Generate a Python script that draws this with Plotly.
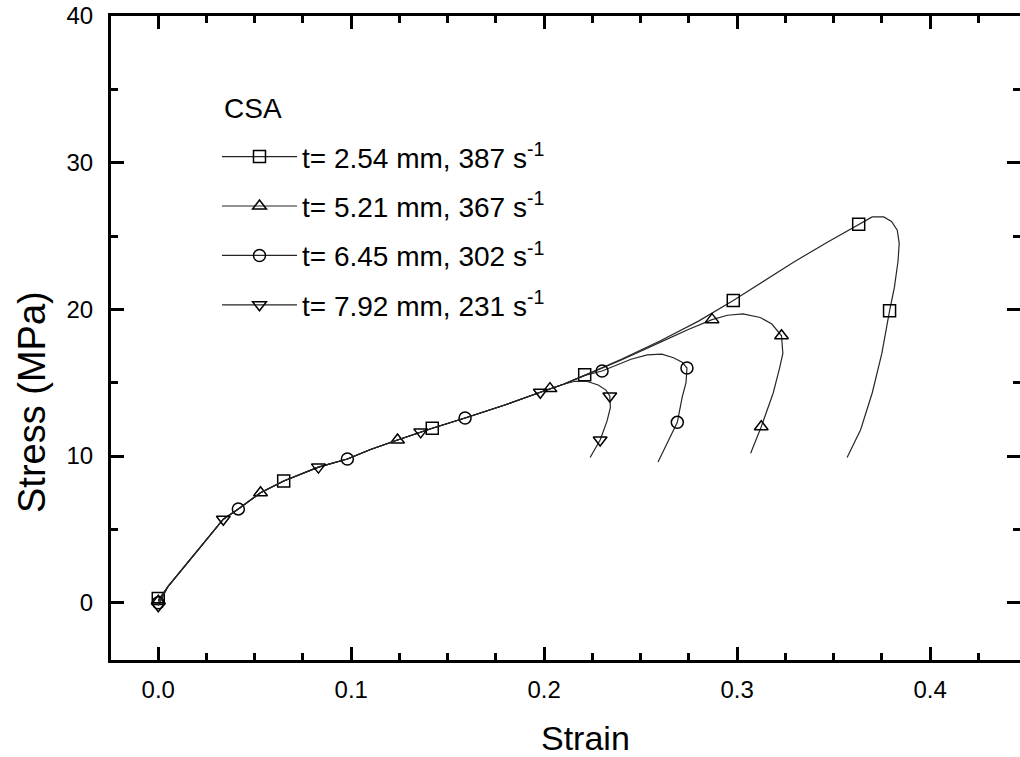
import plotly.graph_objects as go

# ---------------- data ----------------
names = ["t= 2.54 mm, 387 s<sup>-1</sup>", "t= 5.21 mm, 367 s<sup>-1</sup>",
         "t= 6.45 mm, 302 s<sup>-1</sup>", "t= 7.92 mm, 231 s<sup>-1</sup>"]
legend_title = "CSA"
x_title = "Strain"
y_title = "Stress (MPa)"
symbols = ["square-open", "triangle-up-open", "circle-open", "triangle-down-open"]

sq_x = [0.0, 0.005, 0.010, 0.015, 0.020, 0.027, 0.0337, 0.0415, 0.053, 0.065, 0.083, 0.098, 0.110,
        0.124, 0.142, 0.159, 0.180, 0.198, 0.210, 0.221, 0.240, 0.260, 0.280, 0.298, 0.312, 0.329,
        0.347, 0.363, 0.370, 0.376, 0.380, 0.383, 0.3840, 0.3834, 0.3815, 0.379, 0.375, 0.370, 0.364, 0.357]
sq_y = [0.2, 1.1, 1.9, 2.7, 3.5, 4.6, 5.7, 6.4, 7.5, 8.3, 9.25, 9.8, 10.45,
        11.1, 11.9, 12.6, 13.5, 14.35, 14.9, 15.5, 16.6, 17.85, 19.2, 20.6, 21.8, 23.2,
        24.6, 25.8, 26.3, 26.3, 26.0, 25.4, 24.5, 23.3, 21.5, 19.9, 17.0, 14.3, 11.8, 9.9]

tr_x = [0.0, 0.005, 0.010, 0.015, 0.020, 0.027, 0.0337, 0.0415, 0.053, 0.065, 0.083, 0.098, 0.110,
        0.124, 0.142, 0.159, 0.180, 0.198, 0.210, 0.221, 0.230, 0.240, 0.260, 0.275, 0.287, 0.295,
        0.303, 0.312, 0.318, 0.323, 0.3237, 0.322, 0.3187, 0.3125, 0.307]
tr_y = [0.1, 1.1, 1.9, 2.7, 3.5, 4.6, 5.7, 6.4, 7.5, 8.3, 9.25, 9.8, 10.45,
        11.1, 11.9, 12.6, 13.5, 14.35, 14.9, 15.5, 16.0, 16.55, 17.75, 18.65, 19.3, 19.6,
        19.7, 19.45, 19.0, 18.2, 17.0, 16.0, 14.3, 12.0, 10.2]

ci_x = [0.0, 0.005, 0.010, 0.015, 0.020, 0.027, 0.0337, 0.0415, 0.053, 0.065, 0.083, 0.098, 0.110,
        0.124, 0.142, 0.159, 0.180, 0.198, 0.210, 0.221, 0.230, 0.245, 0.2534, 0.261, 0.267, 0.2715,
        0.274, 0.2735, 0.2715, 0.269, 0.264, 0.259]
ci_y = [0.0, 1.1, 1.9, 2.7, 3.5, 4.6, 5.7, 6.4, 7.5, 8.3, 9.25, 9.8, 10.45,
        11.1, 11.9, 12.6, 13.5, 14.35, 14.9, 15.5, 15.8, 16.6, 16.9, 16.95, 16.7, 16.4,
        16.0, 15.0, 14.0, 12.3, 10.9, 9.6]

it_x = [0.0, 0.005, 0.010, 0.015, 0.020, 0.027, 0.0337, 0.0415, 0.053, 0.065, 0.083, 0.098, 0.110,
        0.124, 0.142, 0.159, 0.180, 0.198, 0.210, 0.216, 0.222, 0.228, 0.232, 0.234, 0.2343, 0.2326,
        0.229, 0.2238]
it_y = [-0.2, 1.1, 1.9, 2.7, 3.5, 4.6, 5.7, 6.4, 7.5, 8.3, 9.25, 9.8, 10.45,
        11.1, 11.9, 12.6, 13.5, 14.35, 14.9, 15.1, 15.1, 14.85, 14.5, 14.1, 13.3, 12.4,
        11.1, 9.9]

# marker positions (every n-th data point, as in the original)
sq_mx = [0.0, 0.065, 0.142, 0.221, 0.298, 0.363, 0.379]
sq_my = [0.3, 8.3, 11.9, 15.55, 20.6, 25.8, 19.9]
tr_mx = [0.0, 0.053, 0.124, 0.203, 0.287, 0.323, 0.3125]
tr_my = [0.1, 7.5, 11.1, 14.6, 19.3, 18.2, 12.0]
ci_mx = [0.0, 0.0415, 0.098, 0.159, 0.230, 0.274, 0.269]
ci_my = [0.0, 6.4, 9.8, 12.6, 15.8, 16.0, 12.3]
it_mx = [0.0, 0.0337, 0.083, 0.136, 0.198, 0.234, 0.229]
it_my = [-0.2, 5.7, 9.25, 11.65, 14.35, 14.1, 11.1]

x_ticks = [0.0, 0.1, 0.2, 0.3, 0.4]
x_ticklabels = ["0.0", "0.1", "0.2", "0.3", "0.4"]
y_ticks = [0, 10, 20, 30, 40]

# ---------------- figure ----------------
FONT = "Arial, 'Liberation Sans', Helvetica, sans-serif"
INK = "black"
LINE = "#262626"

fig = go.Figure()
curves = [(sq_x, sq_y, sq_mx, sq_my), (tr_x, tr_y, tr_mx, tr_my),
          (ci_x, ci_y, ci_mx, ci_my), (it_x, it_y, it_mx, it_my)]
for i, (cx, cy, mx, my) in enumerate(curves):
    fig.add_trace(go.Scatter(x=cx, y=cy, mode="lines", line=dict(color=LINE, width=1.2),
                             showlegend=False, hoverinfo="skip"))
    fig.add_trace(go.Scatter(x=mx, y=my, mode="markers",
                             marker=dict(symbol=symbols[i], size=12, color=INK,
                                         line=dict(width=1.5, color=INK)),
                             showlegend=False))
for i in range(4):
    fig.add_trace(go.Scatter(x=[None], y=[None], mode="lines+markers", name=names[i],
                             legendgroup=f"g{i}",
                             line=dict(color=LINE, width=1.2),
                             marker=dict(symbol=symbols[i], size=12, color=INK,
                                         line=dict(width=1.5, color=INK))))
# helper trace for the mirrored (top / right) axes
fig.add_trace(go.Scatter(x=[None], y=[None], xaxis="x2", yaxis="y2", showlegend=False))

XR = [-0.0245, 0.4466]
YR = [-3.9, 40]
tickfont = dict(family=FONT, size=24, color=INK)

common_x = dict(range=XR, showgrid=False, zeroline=False, ticks="inside", ticklen=13,
                tickwidth=2.5, tickcolor=INK, tickvals=x_ticks,
                minor=dict(ticks="inside", ticklen=7, tickwidth=2.5, tickcolor=INK,
                           dtick=0.025, tick0=0, showgrid=False))
common_y = dict(range=YR, showgrid=False, zeroline=False, ticks="inside", ticklen=13,
                tickwidth=2.5, tickcolor=INK, tickvals=y_ticks,
                minor=dict(ticks="inside", ticklen=7, tickwidth=2.5, tickcolor=INK,
                           dtick=5, tick0=0, showgrid=False))

fig.update_layout(
    width=1020, height=757,
    margin=dict(l=111, r=0, t=16, b=97),
    paper_bgcolor="white", plot_bgcolor="white",
    font=dict(family=FONT, color=INK),
    xaxis=dict(**common_x, showline=True, linewidth=3, linecolor=INK,
               ticktext=x_ticklabels, tickfont=tickfont, ticklabelstandoff=6),
    yaxis=dict(**common_y, showline=True, linewidth=3, linecolor=INK,
               tickfont=tickfont, ticklabelstandoff=10),
    xaxis2=dict(**common_x, overlaying="x", side="top", anchor="y2", showline=True,
                linewidth=3, linecolor=INK, showticklabels=False),
    yaxis2=dict(**common_y, overlaying="y", side="right", anchor="x2", showline=False,
                showticklabels=False),
    legend=dict(x=0.1166, y=0.820, xanchor="left", yanchor="top",
                bgcolor="rgba(0,0,0,0)", borderwidth=0,
                font=dict(family=FONT, size=28, color=INK),
                itemwidth=75, tracegroupgap=10),
    showlegend=True,
    annotations=[
        dict(text=legend_title, xref="paper", yref="paper", x=0.1221, y=0.857,
             xanchor="left", yanchor="middle", showarrow=False,
             font=dict(family=FONT, size=28, color=INK)),
        dict(text=x_title, xref="paper", yref="paper", x=0.5215, y=-0.1215,
             xanchor="center", yanchor="middle", showarrow=False,
             font=dict(family=FONT, size=34, color=INK)),
        dict(text=y_title, xref="paper", yref="paper", x=-0.0869, y=0.4006,
             xanchor="center", yanchor="middle", showarrow=False, textangle=-90,
             font=dict(family=FONT, size=38, color=INK)),
    ],
)

fig.write_html("out.html")
